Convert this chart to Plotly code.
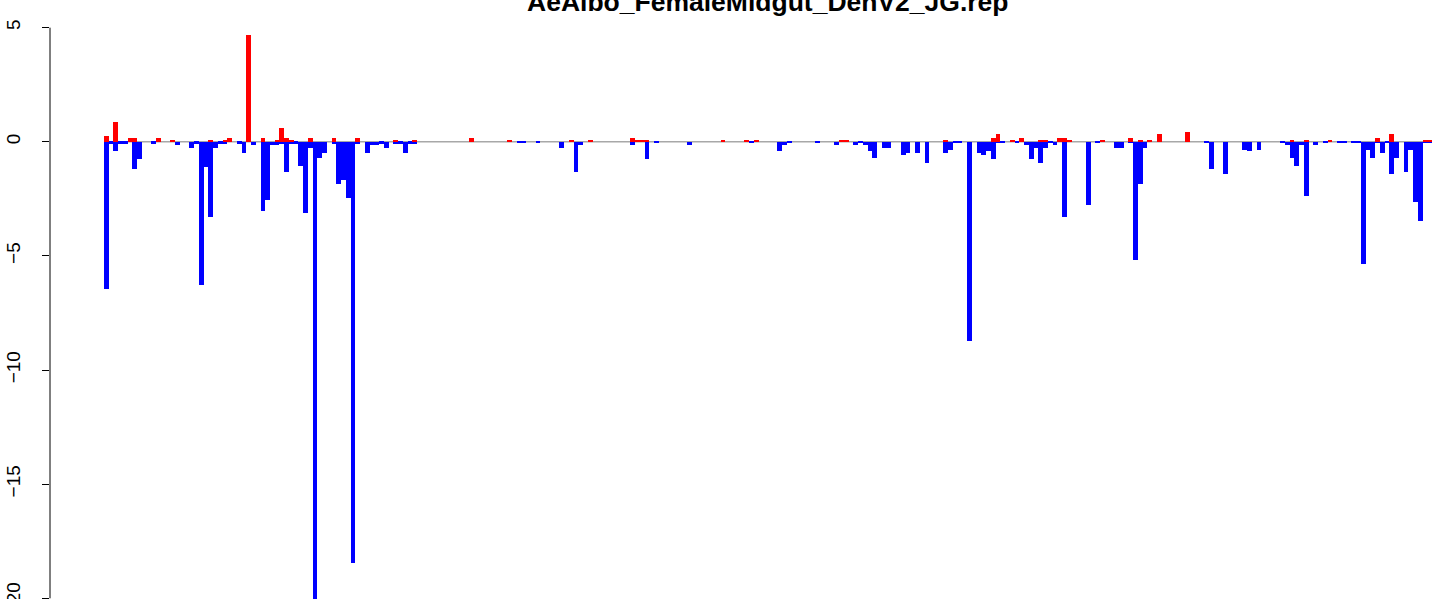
import plotly.graph_objects as go

title_text = "AeAlbo_FemaleMidgut_DenV2_JG.rep"
n_slots = 280

# positive (red) values: slot index -> value
pos_idx = [0, 2, 5, 6, 11, 14, 22, 25, 26, 30, 33, 36, 37, 38, 39, 43, 48, 53, 61, 65,
           77, 85, 98, 102, 111, 112, 113, 114, 130, 135, 137, 155, 156, 177, 187, 188,
           191, 193, 197, 198, 201, 202, 203, 210, 216, 218, 220, 222, 228, 250, 253,
           258, 268, 271, 278, 279]
pos_val = [0.26, 0.88, 0.17, 0.17, 0.17, 0.09, 0.09, 0.09, 0.17, 4.68, 0.17, 0.09, 0.61,
           0.17, 0.09, 0.17, 0.17, 0.17, 0.09, 0.09,
           0.17, 0.09, 0.09, 0.09, 0.17, 0.09, 0.09, 0.09, 0.09, 0.09, 0.09, 0.09, 0.09,
           0.09, 0.17, 0.35,
           0.09, 0.17, 0.09, 0.09, 0.17, 0.17, 0.09, 0.09, 0.17, 0.09, 0.09, 0.35, 0.44,
           0.09, 0.09,
           0.09, 0.17, 0.35, 0.09, 0.09]

# negative (blue) values: slot index -> value
neg_idx = [0, 1, 2, 3, 4, 6, 7, 10, 15, 18, 19, 20, 21, 22, 23, 24, 25, 28, 29, 31, 33,
           34, 35, 36, 37, 38, 39, 40, 41, 42, 43, 44, 45, 46, 48, 49, 50, 51, 52, 53,
           55, 56, 57, 58, 59, 61, 62, 63, 64, 65, 87, 88, 91, 96, 99, 100, 111, 114,
           116, 123, 136, 142, 143, 144, 150, 154, 158, 159, 160, 161, 162, 164, 165,
           168, 169, 171, 173, 177, 178, 179, 180, 182, 184, 185, 186, 187, 188, 189,
           192, 194, 195, 196, 197, 198, 199, 200, 202, 207, 209, 213, 214, 216, 217,
           218, 219, 232, 233, 236, 240, 241, 243, 248, 249, 250, 251, 252, 253, 255,
           257, 260, 261, 263, 264, 265, 266, 267, 268, 269, 270, 271, 272, 274, 275,
           276, 277, 278, 279]
neg_val = [-6.45, -0.08, -0.42, -0.08, -0.08, -1.21, -0.77, -0.08, -0.16, -0.25, -0.08,
           -6.29, -1.12, -3.31, -0.25, -0.08, -0.08, -0.08, -0.51, -0.16, -3.05,
           -2.57, -0.16, -0.16, -0.08, -1.34, -0.08, -0.08, -1.04, -3.14, -0.25, -21.5,
           -0.69, -0.51, -0.08, -1.87, -1.69, -2.48, -18.46, -0.08,
           -0.51, -0.16, -0.16, -0.08, -0.25, -0.08, -0.08, -0.51, -0.08, -0.08, -0.07,
           -0.07, -0.07, -0.25, -1.34, -0.16, -0.16, -0.77,
           -0.07, -0.16, -0.07, -0.42, -0.16, -0.07, -0.07, -0.16, -0.16, -0.07, -0.16,
           -0.42, -0.69, -0.25, -0.25,
           -0.60, -0.51, -0.51, -0.95, -0.51, -0.34, -0.07, -0.07, -8.73, -0.51, -0.60,
           -0.42, -0.77, -0.07, -0.07,
           -0.07, -0.16, -0.77, -0.25, -0.95, -0.25, -0.07, -0.16, -3.31, -2.79, -0.07,
           -0.25, -0.25, -0.07, -5.19,
           -1.87, -0.25, -0.07, -1.21, -1.43, -0.34, -0.42, -0.34, -0.07, -0.16, -0.69,
           -1.04, -0.16, -2.39, -0.16,
           -0.07, -0.07, -0.07, -0.07, -0.07, -5.37, -0.34, -0.69, -0.07, -0.51, -0.07,
           -1.43, -0.69, -1.34, -0.34,
           -2.65, -3.49, -0.07, -0.07]

y_ticks = [-20, -15, -10, -5, 0, 5]


def tick_label(v):
    return ("−" + str(-v)) if v < 0 else str(v)


W, H = 1439, 599
FONT = "Liberation Sans, Arial, Helvetica, sans-serif"
y_min_shown = -20.03

fig = go.Figure()
fig.add_trace(go.Bar(x=neg_idx, y=neg_val, width=1, marker=dict(color="#0000FF", line=dict(width=0)),
                     showlegend=False, hoverinfo="x+y"))
fig.add_trace(go.Bar(x=pos_idx, y=pos_val, width=1, marker=dict(color="#FF0000", line=dict(width=0)),
                     showlegend=False, hoverinfo="x+y"))

# baseline under the bars
fig.add_shape(type="line", xref="x", yref="y", x0=-0.5, x1=n_slots - 0.5, y0=0, y1=0,
              line=dict(color="#A8A8A8", width=1.5), layer="below")
# y axis line from lowest to highest tick
fig.add_shape(type="line", xref="paper", yref="y", x0=0, x1=0, y0=min(y_ticks), y1=max(y_ticks),
              line=dict(color="black", width=1))

# tick labels that sit on the lower edge (plotly drops them), drawn as rotated text
edge_ticks = [v for v in y_ticks if v <= y_min_shown + 0.5]
annotations = [dict(text="<b>" + title_text + "</b>", xref="x", yref="paper",
                    x=(n_slots - 1) / 2, y=1, xanchor="center", yanchor="top", yshift=15,
                    showarrow=False, font=dict(family=FONT, size=26.5, color="black"))]
for v in edge_ticks:
    annotations.append(dict(text=tick_label(v), xref="paper", yref="y", x=0, y=v,
                            xanchor="center", yanchor="middle", xshift=-37, textangle=-90,
                            showarrow=False, font=dict(family=FONT, size=19, color="black")))

px_per_slot = 4.743
left_px = 54.0
right_px = 7.0
fig.update_layout(
    width=W, height=H,
    margin=dict(l=50, r=0, t=0, b=0, pad=0),
    paper_bgcolor="white", plot_bgcolor="white",
    barmode="relative", bargap=0,
    font=dict(family=FONT, color="black"),
    xaxis=dict(range=[-0.5 - left_px / px_per_slot, n_slots - 0.5 + right_px / px_per_slot],
               visible=False, showgrid=False, zeroline=False),
    yaxis=dict(range=[y_min_shown, 6.212], tickvals=y_ticks,
               ticktext=["" if v in edge_ticks else tick_label(v) for v in y_ticks],
               tickangle=-90, ticks="outside", ticklen=7, tickwidth=1, tickcolor="black",
               showline=False, showgrid=False, zeroline=False,
               tickfont=dict(family=FONT, size=19, color="black"), ticklabelstandoff=14),
    annotations=annotations,
)

fig.write_html("out.html", config={"displayModeBar": False},
               post_script="document.body.style.margin='0';")
